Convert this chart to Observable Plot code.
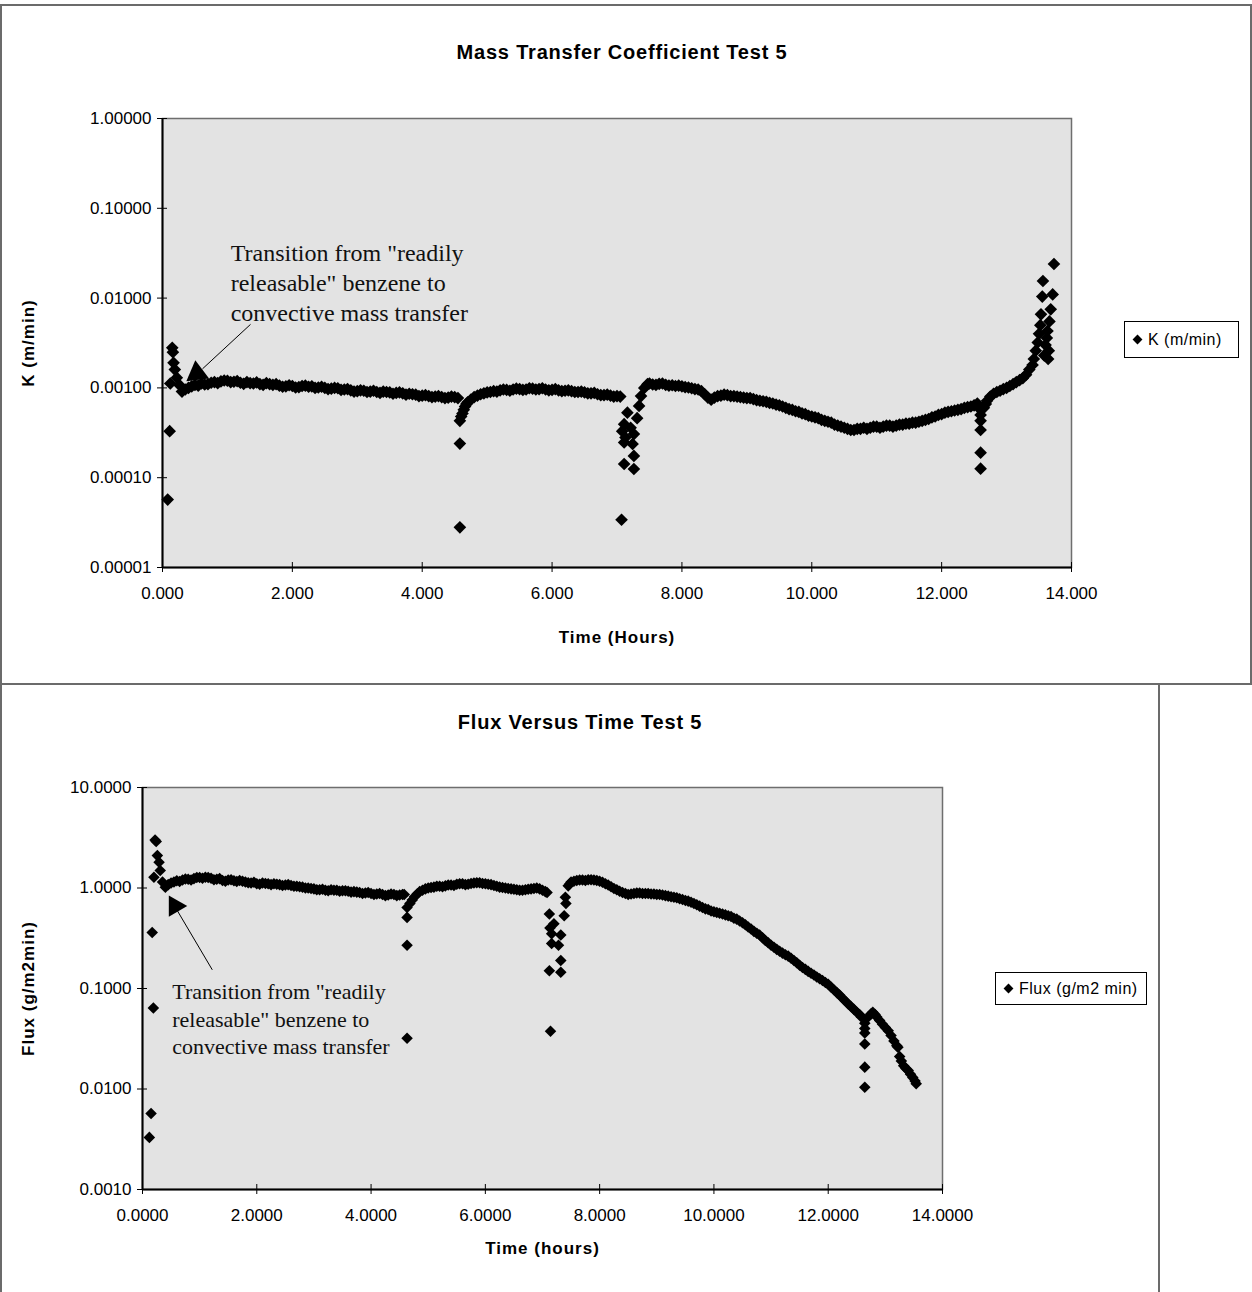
<!DOCTYPE html>
<html><head><meta charset="utf-8">
<script src="https://cdn.jsdelivr.net/npm/d3@7"></script>
<script src="https://cdn.jsdelivr.net/npm/@observablehq/plot@0.6"></script>
<style>
body{margin:0;background:#fff;}
#root{position:relative;width:1252px;height:1292px;overflow:hidden;font-family:"Liberation Sans",Arial,sans-serif;background:#fff;}
.box{position:absolute;box-sizing:border-box;}
.title{position:absolute;font-weight:bold;font-size:20px;letter-spacing:0.8px;white-space:nowrap;transform:translate(-50%,-50%);}
.legend{position:absolute;box-sizing:border-box;border:1px solid #000;background:#fff;font-size:16px;letter-spacing:0.5px;display:flex;align-items:center;white-space:nowrap;}
.legend i{display:inline-block;width:7px;height:7px;background:#000;transform:rotate(45deg);margin:0 7px 0 9px;}
.chart{position:absolute;left:0;}
</style></head><body>
<div id="root"></div>
<script>
// ---------- data: Mass Transfer Coefficient K (top) ----------
const kTime = [
0.08,0.11,0.12,0.15,0.16,0.17,0.19,0.22,0.26,0.30,0.35,
0.40,0.45,0.50,0.55,0.60,0.65,0.70,0.75,0.80,0.85,0.90,0.95,1.00,1.05,1.10,1.15,1.20,1.25,1.30,1.35,1.40,1.45,1.50,1.55,1.60,1.65,1.70,1.75,1.80,1.85,1.90,1.95,
2.00,2.05,2.10,2.15,2.20,2.25,2.30,2.35,2.40,2.45,2.50,2.55,2.60,2.65,2.70,2.75,2.80,2.85,2.90,2.95,3.00,3.05,3.10,3.15,3.20,3.25,3.30,3.35,3.40,3.45,3.50,3.55,
3.60,3.65,3.70,3.75,3.80,3.85,3.90,3.95,4.00,4.05,4.10,4.15,4.20,4.25,4.30,4.35,4.40,4.45,4.50,4.55,
4.58,4.58,4.58,4.60,4.62,4.64,4.66,4.68,4.70,4.75,4.80,4.85,4.90,4.95,
5.00,5.05,5.10,5.15,5.20,5.25,5.30,5.35,5.40,5.45,5.50,5.55,5.60,5.65,5.70,5.75,5.80,5.85,5.90,5.95,6.00,6.05,6.10,6.15,6.20,6.25,6.30,6.35,6.40,6.45,6.50,6.55,6.60,6.65,6.70,6.75,6.80,6.85,6.90,6.95,7.00,7.05,
7.07,7.08,7.11,7.11,7.11,7.13,7.16,7.21,7.24,7.26,7.26,7.26,7.31,7.34,7.37,7.42,
7.47,7.50,7.55,7.60,7.65,7.70,7.75,7.80,7.85,7.90,7.95,8.00,8.05,8.10,8.15,8.20,8.25,8.30,8.35,8.40,8.45,8.50,8.55,
8.60,8.65,8.70,8.75,8.80,8.85,8.90,8.95,9.00,9.05,9.10,9.15,9.20,9.25,9.30,9.35,9.40,9.45,9.50,9.55,9.60,9.65,9.70,9.75,9.80,9.85,9.90,9.95,
10.00,10.05,10.10,10.15,10.20,10.25,10.30,10.35,10.40,10.45,10.50,10.55,10.60,10.65,10.70,10.75,10.80,10.85,10.90,10.95,
11.00,11.05,11.10,11.15,11.20,11.25,11.30,11.35,11.40,11.45,11.50,11.55,11.60,11.65,11.70,11.75,11.80,11.85,11.90,11.95,
12.00,12.05,12.10,12.15,12.20,12.25,12.30,12.35,12.40,12.45,12.50,12.55,
12.60,12.60,12.60,12.60,12.60,12.60,
12.65,12.68,12.70,12.75,12.80,12.85,12.90,12.95,13.00,13.05,13.10,13.15,13.20,13.25,13.30,13.35,13.40,
13.42,13.45,13.48,13.50,13.52,13.53,13.55,13.56,13.58,13.60,13.62,13.63,13.64,13.65,13.66,13.68,13.71,13.73];
const kValue = [
0.000057,0.00033,0.00112,0.0028,0.0025,0.0019,0.0016,0.0013,0.00108,0.00091,0.00096,
0.00100,0.00104,0.00108,0.00106,0.00112,0.00109,0.00110,0.00114,0.00116,0.00113,0.00118,0.00121,0.00120,0.00116,0.00117,0.00119,0.00114,0.00111,0.00116,0.00113,0.00112,0.00115,0.00110,0.00108,0.00113,0.00110,0.00108,0.00110,0.00106,0.00103,0.00104,0.00107,
0.00105,0.00101,0.00102,0.00105,0.00106,0.00103,0.00104,0.00100,0.00101,0.00103,0.00100,0.00097,0.00098,0.00100,0.00099,0.00095,0.00096,0.00097,0.00094,0.00091,0.00092,0.00094,0.00093,0.00090,0.00091,0.00093,0.00090,0.00088,0.00091,0.00090,0.00089,0.00086,
0.00088,0.00089,0.00087,0.00084,0.00086,0.00085,0.00084,0.00081,0.00082,0.00083,0.00081,0.00079,0.00080,0.00081,0.00079,0.00077,0.00078,0.00080,0.00079,0.00077,
0.00043,0.00024,0.000028,0.00048,0.00052,0.00057,0.00062,0.00066,0.00069,0.00074,0.00079,0.00082,0.00085,0.00087,
0.00089,0.00090,0.00092,0.00091,0.00094,0.00096,0.00095,0.00093,0.00096,0.00098,0.00097,0.00095,0.00096,0.00099,0.00098,0.00096,0.00097,0.00099,0.00096,0.00094,0.00095,0.00097,0.00094,0.00092,0.00093,0.00094,0.00092,0.00090,0.00090,0.00091,0.00089,0.00087,0.00087,0.00088,0.00085,0.00083,0.00083,0.00084,0.00082,0.00080,0.00081,0.00080,
0.000034,0.00033,0.000395,0.000247,0.000142,0.00028,0.00053,0.00036,0.000237,0.000306,0.000175,0.000125,0.00046,0.00063,0.00081,0.00100,
0.00110,0.00112,0.00109,0.00108,0.00111,0.00112,0.00108,0.00106,0.00107,0.00105,0.00106,0.00104,0.00102,0.00101,0.00099,0.00097,0.00096,0.00092,0.00085,0.00078,0.00074,0.00078,0.00081,
0.00082,0.00084,0.00083,0.00081,0.00081,0.00080,0.00079,0.00078,0.00077,0.00077,0.00075,0.00073,0.00072,0.00071,0.00070,0.00068,0.00067,0.00065,0.00064,0.00062,0.00060,0.00058,0.00057,0.00055,0.00054,0.00052,0.00051,0.00049,
0.00048,0.00047,0.00046,0.00044,0.00043,0.00042,0.00041,0.00039,0.00038,0.00037,0.00036,0.00035,0.00034,0.00034,0.00035,0.00035,0.00036,0.00035,0.00036,0.00037,
0.00037,0.00036,0.00037,0.00038,0.00038,0.00037,0.00038,0.00039,0.00039,0.00040,0.00040,0.00041,0.00041,0.00042,0.00043,0.00044,0.00045,0.00047,0.00048,0.00050,
0.00051,0.00053,0.00054,0.00055,0.00056,0.00057,0.00058,0.00060,0.00061,0.00062,0.00064,0.00067,
0.00057,0.00050,0.00043,0.00034,0.00019,0.000126,
0.00060,0.00066,0.00072,0.00080,0.00086,0.00090,0.00093,0.00097,0.00100,0.00105,0.00110,0.00116,0.00122,0.00128,0.00140,0.00160,0.00180,
0.0021,0.0026,0.0032,0.0040,0.0050,0.0066,0.0104,0.0155,0.0023,0.0030,0.0036,0.0043,0.0021,0.0026,0.0055,0.0075,0.0110,0.0240];

// ---------- data: Flux (bottom) ----------
const fluxTime = [
0.12,0.15,0.17,0.19,0.20,0.22,0.24,0.26,0.29,0.31,0.35,
0.40,0.45,0.50,0.55,0.60,0.65,0.70,0.75,0.80,0.85,0.90,0.95,1.00,1.05,1.10,1.15,1.20,1.25,1.30,1.35,1.40,1.45,1.50,1.55,1.60,1.65,1.70,1.75,1.80,1.85,1.90,1.95,
2.00,2.05,2.10,2.15,2.20,2.25,2.30,2.35,2.40,2.45,2.50,2.55,2.60,2.65,2.70,2.75,2.80,2.85,2.90,2.95,3.00,3.05,3.10,3.15,3.20,3.25,3.30,3.35,3.40,3.45,3.50,3.55,
3.60,3.65,3.70,3.75,3.80,3.85,3.90,3.95,4.00,4.05,4.10,4.15,4.20,4.25,4.30,4.35,4.40,4.45,4.50,4.55,4.58,
4.63,4.63,4.63,4.63,4.68,4.72,4.76,4.81,4.85,4.90,4.95,
5.00,5.05,5.10,5.15,5.20,5.25,5.30,5.35,5.40,5.45,5.50,5.55,5.60,5.65,5.70,5.75,5.80,5.85,5.90,5.95,6.00,6.05,6.10,6.15,6.20,6.25,6.30,6.35,6.40,6.45,6.50,6.55,6.60,6.65,6.70,6.75,6.80,6.85,6.90,6.95,7.00,7.05,7.08,
7.12,7.13,7.14,7.16,7.16,7.12,7.20,7.28,7.32,7.32,7.32,7.38,7.40,7.41,
7.45,7.48,7.50,7.55,7.60,7.65,7.70,7.75,7.80,7.85,7.90,7.95,8.00,8.05,8.10,8.15,8.20,8.25,8.30,8.35,8.40,8.45,8.50,8.55,
8.60,8.65,8.70,8.75,8.80,8.85,8.90,8.95,9.00,9.05,9.10,9.15,9.20,9.25,9.30,9.35,9.40,9.45,9.50,9.55,9.60,9.65,9.70,9.75,9.80,9.85,9.90,9.95,
10.00,10.05,10.10,10.15,10.20,10.25,10.30,10.35,10.40,10.45,10.50,10.55,10.60,10.65,10.70,10.75,10.80,10.85,10.90,10.95,
11.00,11.05,11.10,11.15,11.20,11.25,11.30,11.35,11.40,11.45,11.50,11.55,11.60,11.65,11.70,11.75,11.80,11.85,11.90,11.95,
12.00,12.05,12.10,12.15,12.20,12.25,12.30,12.35,12.40,12.45,12.50,12.55,12.58,
12.64,12.64,12.64,12.64,12.64,12.64,
12.70,12.75,12.78,12.82,12.85,12.90,12.95,13.00,13.05,13.10,13.15,13.20,13.22,13.25,13.28,13.32,13.36,13.40,13.44,13.48,13.52,13.54];
const fluxValue = [
0.0033,0.0057,0.36,0.064,1.28,3.0,2.9,2.1,1.8,1.49,1.15,
1.02,1.08,1.12,1.15,1.18,1.16,1.20,1.23,1.22,1.20,1.24,1.27,1.27,1.25,1.28,1.27,1.25,1.21,1.22,1.24,1.19,1.17,1.20,1.21,1.18,1.16,1.19,1.17,1.15,1.13,1.12,1.14,
1.10,1.09,1.12,1.11,1.10,1.08,1.10,1.09,1.08,1.06,1.07,1.08,1.06,1.04,1.04,1.03,1.02,1.00,1.00,0.99,0.98,0.96,0.96,0.97,0.95,0.94,0.96,0.95,0.95,0.93,0.94,0.94,
0.93,0.91,0.92,0.91,0.90,0.88,0.89,0.90,0.88,0.86,0.87,0.88,0.86,0.84,0.85,0.87,0.86,0.84,0.85,0.86,0.86,
0.64,0.51,0.27,0.032,0.70,0.76,0.82,0.875,0.92,0.95,0.98,
1.00,1.01,1.02,1.04,1.04,1.03,1.05,1.07,1.07,1.06,1.09,1.10,1.10,1.08,1.09,1.11,1.12,1.13,1.13,1.11,1.10,1.09,1.08,1.06,1.04,1.02,1.01,1.00,0.99,0.98,0.97,0.96,0.95,0.95,0.96,0.97,0.98,0.99,1.00,0.98,0.95,0.92,0.90,
0.55,0.40,0.0376,0.35,0.28,0.15,0.44,0.27,0.34,0.19,0.145,0.53,0.81,0.70,
1.05,1.10,1.15,1.17,1.19,1.20,1.20,1.19,1.21,1.21,1.20,1.19,1.17,1.14,1.10,1.07,1.03,0.99,0.96,0.93,0.90,0.88,0.86,0.87,
0.88,0.89,0.89,0.88,0.88,0.88,0.87,0.87,0.86,0.86,0.85,0.84,0.83,0.82,0.81,0.80,0.78,0.77,0.75,0.74,0.72,0.70,0.68,0.66,0.64,0.62,0.61,0.59,
0.58,0.57,0.56,0.55,0.54,0.53,0.52,0.50,0.49,0.47,0.45,0.43,0.41,0.39,0.37,0.355,0.34,0.32,0.30,0.285,
0.27,0.257,0.245,0.235,0.225,0.217,0.21,0.20,0.19,0.18,0.17,0.162,0.155,0.148,0.142,0.136,0.13,0.125,0.12,0.115,
0.11,0.103,0.097,0.091,0.086,0.080,0.075,0.070,0.066,0.062,0.058,0.055,0.052,
0.045,0.040,0.036,0.028,0.0165,0.0104,
0.052,0.056,0.058,0.055,0.052,0.048,0.044,0.041,0.038,0.034,0.030,0.027,0.026,0.021,0.019,0.017,0.016,0.0153,0.014,0.013,0.012,0.0113];

// ---------- ticks, labels, annotations ----------
const topXTicks = [0,2,4,6,8,10,12,14];
const topYTicks = [0.00001,0.0001,0.001,0.01,0.1,1];
const botXTicks = [0,2,4,6,8,10,12,14];
const botYTicks = [0.001,0.01,0.1,1,10];
const topTitle = "Mass Transfer Coefficient Test 5";
const botTitle = "Flux Versus Time Test 5";
const topXLabel = "Time (Hours)";
const topYLabel = "K (m/min)";
const botXLabel = "Time (hours)";
const botYLabel = "Flux (g/m2min)";
const topLegend = "K (m/min)";
const botLegend = "Flux (g/m2 min)";
const noteText = 'Transition from "readily\nreleasable" benzene to\nconvective mass transfer';
const topNote = {t:1.05, v:0.01545, lineFrom:[1.356,0.0051], lineTo:[0.616,0.00163], head:[0.53,0.00145]};
const botNote = {t:0.52, v:0.0514, lineFrom:[1.221,0.1535], lineTo:[0.608,0.597], head:[0.568,0.661]};

const topData = kTime.map((t,i)=>({t, v:kValue[i]}));
const botData = fluxTime.map((t,i)=>({t, v:fluxValue[i]}));

const root = document.getElementById("root");
function addDiv(cls, styles, html){
  const d = document.createElement("div"); d.className = cls;
  Object.assign(d.style, styles); if (html != null) d.innerHTML = html; root.appendChild(d); return d;
}
const baseStyle = {fontFamily:'"Liberation Sans", Arial, sans-serif', fontSize:"17px", background:"transparent", overflow:"visible", color:"#000"};
const serif = '"Liberation Serif", "Times New Roman", serif';

// ---------- top chart ----------
const tW=1252, tH=683, tL=162, tR=181, tT=118, tB=116;
const topPlot = Plot.plot({
  width:tW, height:tH, marginLeft:tL, marginRight:tR, marginTop:tT, marginBottom:tB,
  style: baseStyle,
  x:{domain:[0,14]},
  y:{type:"log", domain:[1e-5,1]},
  marks:[
    Plot.frame({fill:"#e3e3e3", stroke:"#6e6e6e", strokeWidth:1.5}),
    Plot.ruleX(topXTicks, {x:d=>d, insetTop:(tH-tT-tB)-5, stroke:"#000"}),
    Plot.ruleY(topYTicks, {y:d=>d, insetRight:(tW-tL-tR)-5, stroke:"#000"}),
    Plot.axisX({ticks:topXTicks, tickSize:5, tickPadding:14, tickFormat:d=>d.toFixed(3), label:null}),
    Plot.axisY({ticks:topYTicks, tickSize:5, tickPadding:6, tickFormat:d=>d.toFixed(5), label:null}),
    Plot.ruleX([0], {stroke:"#000", strokeWidth:2}),
    Plot.ruleY([1e-5], {stroke:"#000", strokeWidth:2}),
    Plot.dot(topData, {x:"t", y:"v", symbol:"diamond2", r:5.7, fill:"#000"}),
    Plot.link([topNote], {x1:d=>d.lineFrom[0], y1:d=>d.lineFrom[1], x2:d=>d.lineTo[0], y2:d=>d.lineTo[1], stroke:"#000", strokeWidth:1}),
    Plot.dot([topNote], {x:d=>d.head[0], y:d=>d.head[1], symbol:"triangle", r:8.5, rotate:233, fill:"#000"}),
    Plot.text([topNote], {x:"t", y:"v", text:()=>noteText, textAnchor:"start", lineAnchor:"middle", lineHeight:1.25, fontSize:24, fontFamily:serif, fill:"#111"}),
    Plot.text([topXLabel], {frameAnchor:"bottom", dy:70, textAnchor:"middle", lineAnchor:"middle", fontWeight:"bold", fontSize:17}),
    Plot.text([topYLabel], {frameAnchor:"left", dx:-134, rotate:-90, textAnchor:"middle", lineAnchor:"middle", fontWeight:"bold", fontSize:17})
  ]
});
topPlot.classList.add("chart"); topPlot.style.top = "0px";

// ---------- bottom chart ----------
const bW=1158, bH=609, bL=142, bR=216, bT=104, bB=103;
const botPlot = Plot.plot({
  width:bW, height:bH, marginLeft:bL, marginRight:bR, marginTop:bT, marginBottom:bB,
  style: baseStyle,
  x:{domain:[0,14]},
  y:{type:"log", domain:[0.001,10]},
  marks:[
    Plot.frame({fill:"#e3e3e3", stroke:"#6e6e6e", strokeWidth:1.5}),
    Plot.ruleX(botXTicks, {x:d=>d, insetTop:(bH-bT-bB)-5, stroke:"#000"}),
    Plot.ruleY(botYTicks, {y:d=>d, insetRight:(bW-bL-bR)-5, stroke:"#000"}),
    Plot.axisX({ticks:botXTicks, tickSize:5, tickPadding:14, tickFormat:d=>d.toFixed(4), label:null}),
    Plot.axisY({ticks:botYTicks, tickSize:5, tickPadding:6, tickFormat:d=>d.toFixed(4), label:null}),
    Plot.ruleX([0], {stroke:"#000", strokeWidth:2}),
    Plot.ruleY([0.001], {stroke:"#000", strokeWidth:2}),
    Plot.dot(botData, {x:"t", y:"v", symbol:"diamond2", r:5.2, fill:"#000"}),
    Plot.link([botNote], {x1:d=>d.lineFrom[0], y1:d=>d.lineFrom[1], x2:d=>d.lineTo[0], y2:d=>d.lineTo[1], stroke:"#000", strokeWidth:1}),
    Plot.dot([botNote], {x:d=>d.head[0], y:d=>d.head[1], symbol:"triangle", r:7.9, rotate:90, fill:"#000"}),
    Plot.text([botNote], {x:"t", y:"v", text:()=>noteText, textAnchor:"start", lineAnchor:"middle", lineHeight:1.27, fontSize:22, fontFamily:serif, fill:"#111"}),
    Plot.text([botXLabel], {frameAnchor:"bottom", dy:59, textAnchor:"middle", lineAnchor:"middle", fontWeight:"bold", fontSize:17}),
    Plot.text([botYLabel], {frameAnchor:"left", dx:-114, rotate:-90, textAnchor:"middle", lineAnchor:"middle", fontWeight:"bold", fontSize:17})
  ]
});
botPlot.classList.add("chart"); botPlot.style.top = "683px";

root.appendChild(topPlot);
root.appendChild(botPlot);

// letter spacing on bold axis titles
[topPlot, botPlot].forEach(svg => svg.querySelectorAll("text").forEach(t => {
  if ([topXLabel, topYLabel, botXLabel, botYLabel].includes(t.textContent)) t.style.letterSpacing = "1px";
}));

// ---------- panel borders ----------
addDiv("box", {left:"0px", top:"4px", width:"1252px", height:"681px", border:"2px solid #6b6b6b"});
addDiv("box", {left:"0px", top:"683px", width:"1160px", height:"620px", borderLeft:"2px solid #6b6b6b", borderRight:"2px solid #6b6b6b", borderTop:"2px solid #6b6b6b"});

// ---------- titles ----------
addDiv("title", {left:"622px", top:"52px"}).textContent = topTitle;
addDiv("title", {left:"580px", top:"722px"}).textContent = botTitle;

// ---------- legends ----------
addDiv("legend", {left:"1124px", top:"321px", width:"115px", height:"37px"}, '<i></i><span></span>').querySelector("span").textContent = topLegend;
addDiv("legend", {left:"995px", top:"972px", width:"152px", height:"33px"}, '<i></i><span></span>').querySelector("span").textContent = botLegend;
</script>
</body></html>
